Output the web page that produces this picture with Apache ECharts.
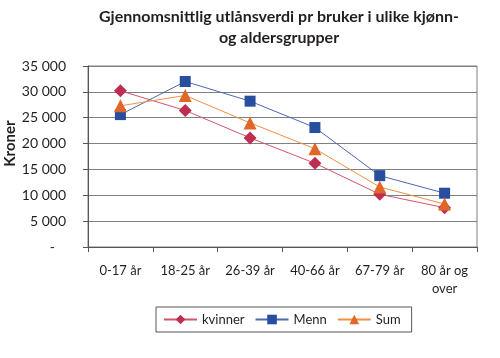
<!DOCTYPE html>
<html><head><meta charset="utf-8">
<script src="https://cdn.jsdelivr.net/npm/echarts@6/dist/echarts.min.js"></script>
<style>html,body{margin:0;padding:0;background:#fff}#c{width:500px;height:358px}</style>
</head><body><div id="c"></div>
<script>
const titleText = 'Gjennomsnittlig utlånsverdi pr bruker i ulike kjønn-\nog aldersgrupper';
const yAxisName = 'Kroner';
const categories = ['0-17 år', '18-25 år', '26-39 år', '40-66 år', '67-79 år', '80 år og\nover'];
const kvinner = [30200, 26400, 21100, 16200, 10200, 7600];
const menn = [25600, 32000, 28200, 23100, 13800, 10400];
const sum = [27300, 29300, 24000, 19000, 11600, 8300];
const yTicks = [0, 5000, 10000, 15000, 20000, 25000, 30000, 35000];

const FONT = 'Lato';
const chart = echarts.init(document.getElementById('c'), null, {renderer: 'canvas'});
function fmt(v) {
  if (v === 0) return '{z|-}';
  return String(v).replace(/\B(?=(\d{3})+(?!\d))/g, ' ');
}
chart.setOption({
  animation: false,
  backgroundColor: '#fff',
  title: {
    text: titleText,
    left: 274, top: 1, textAlign: 'center',
    textStyle: {fontFamily: FONT, fontWeight: 'bold', fontSize: 16, color: '#231f20', lineHeight: 21}
  },
  grid: {left: 88, right: 23, top: 66, bottom: 111, show: true, borderColor: '#808080', borderWidth: 1,
         containLabel: false, outerBoundsMode: 'none'},
  legend: {
    left: 156, top: 307,
    padding: [6, 11, 6, 7],
    borderColor: '#555', borderWidth: 1,
    itemWidth: 33, itemHeight: 12, itemGap: 10,
    textStyle: {fontFamily: FONT, fontSize: 13, color: '#231f20'},
    data: ['kvinner', 'Menn', 'Sum']
  },
  xAxis: {
    type: 'category', data: categories, boundaryGap: true,
    axisLine: {lineStyle: {color: '#555', width: 1}},
    axisTick: {show: true, length: 5, lineStyle: {color: '#555'}},
    axisLabel: {interval: 0, margin: 15, fontFamily: FONT, fontSize: 13, color: '#231f20', lineHeight: 18}
  },
  yAxis: {
    type: 'value', min: 0, max: 35000, interval: 5000,
    name: yAxisName, nameLocation: 'middle', nameGap: 70, nameRotate: 90, nameMoveOverlap: false,
    nameTextStyle: {fontFamily: FONT, fontWeight: 'bold', fontSize: 15, color: '#231f20', padding: [0, 0, 0, 26]},
    axisLine: {show: true, lineStyle: {color: '#555', width: 1}},
    axisTick: {show: true, length: 5, lineStyle: {color: '#555'}},
    splitLine: {lineStyle: {color: '#808080', width: 1}},
    axisLabel: {
      margin: 22, fontFamily: FONT, fontSize: 14, color: '#231f20',
      formatter: fmt,
      rich: {z: {fontFamily: FONT, fontSize: 14, color: '#231f20', padding: [0, 11, 0, 0]}}
    }
  },
  series: [
    {name: 'kvinner', type: 'line', data: kvinner, symbol: 'diamond', symbolSize: 13,
     itemStyle: {color: '#be2d52'}, lineStyle: {color: '#d0566d', width: 1}},
    {name: 'Menn', type: 'line', data: menn, symbol: 'rect', symbolSize: 11,
     itemStyle: {color: '#2a4e9e'}, lineStyle: {color: '#4a68b5', width: 1}},
    {name: 'Sum', type: 'line', data: sum, symbol: 'triangle', symbolSize: 13,
     itemStyle: {color: '#e0662a'}, lineStyle: {color: '#ee9046', width: 1}}
  ]
});
</script></body></html>
